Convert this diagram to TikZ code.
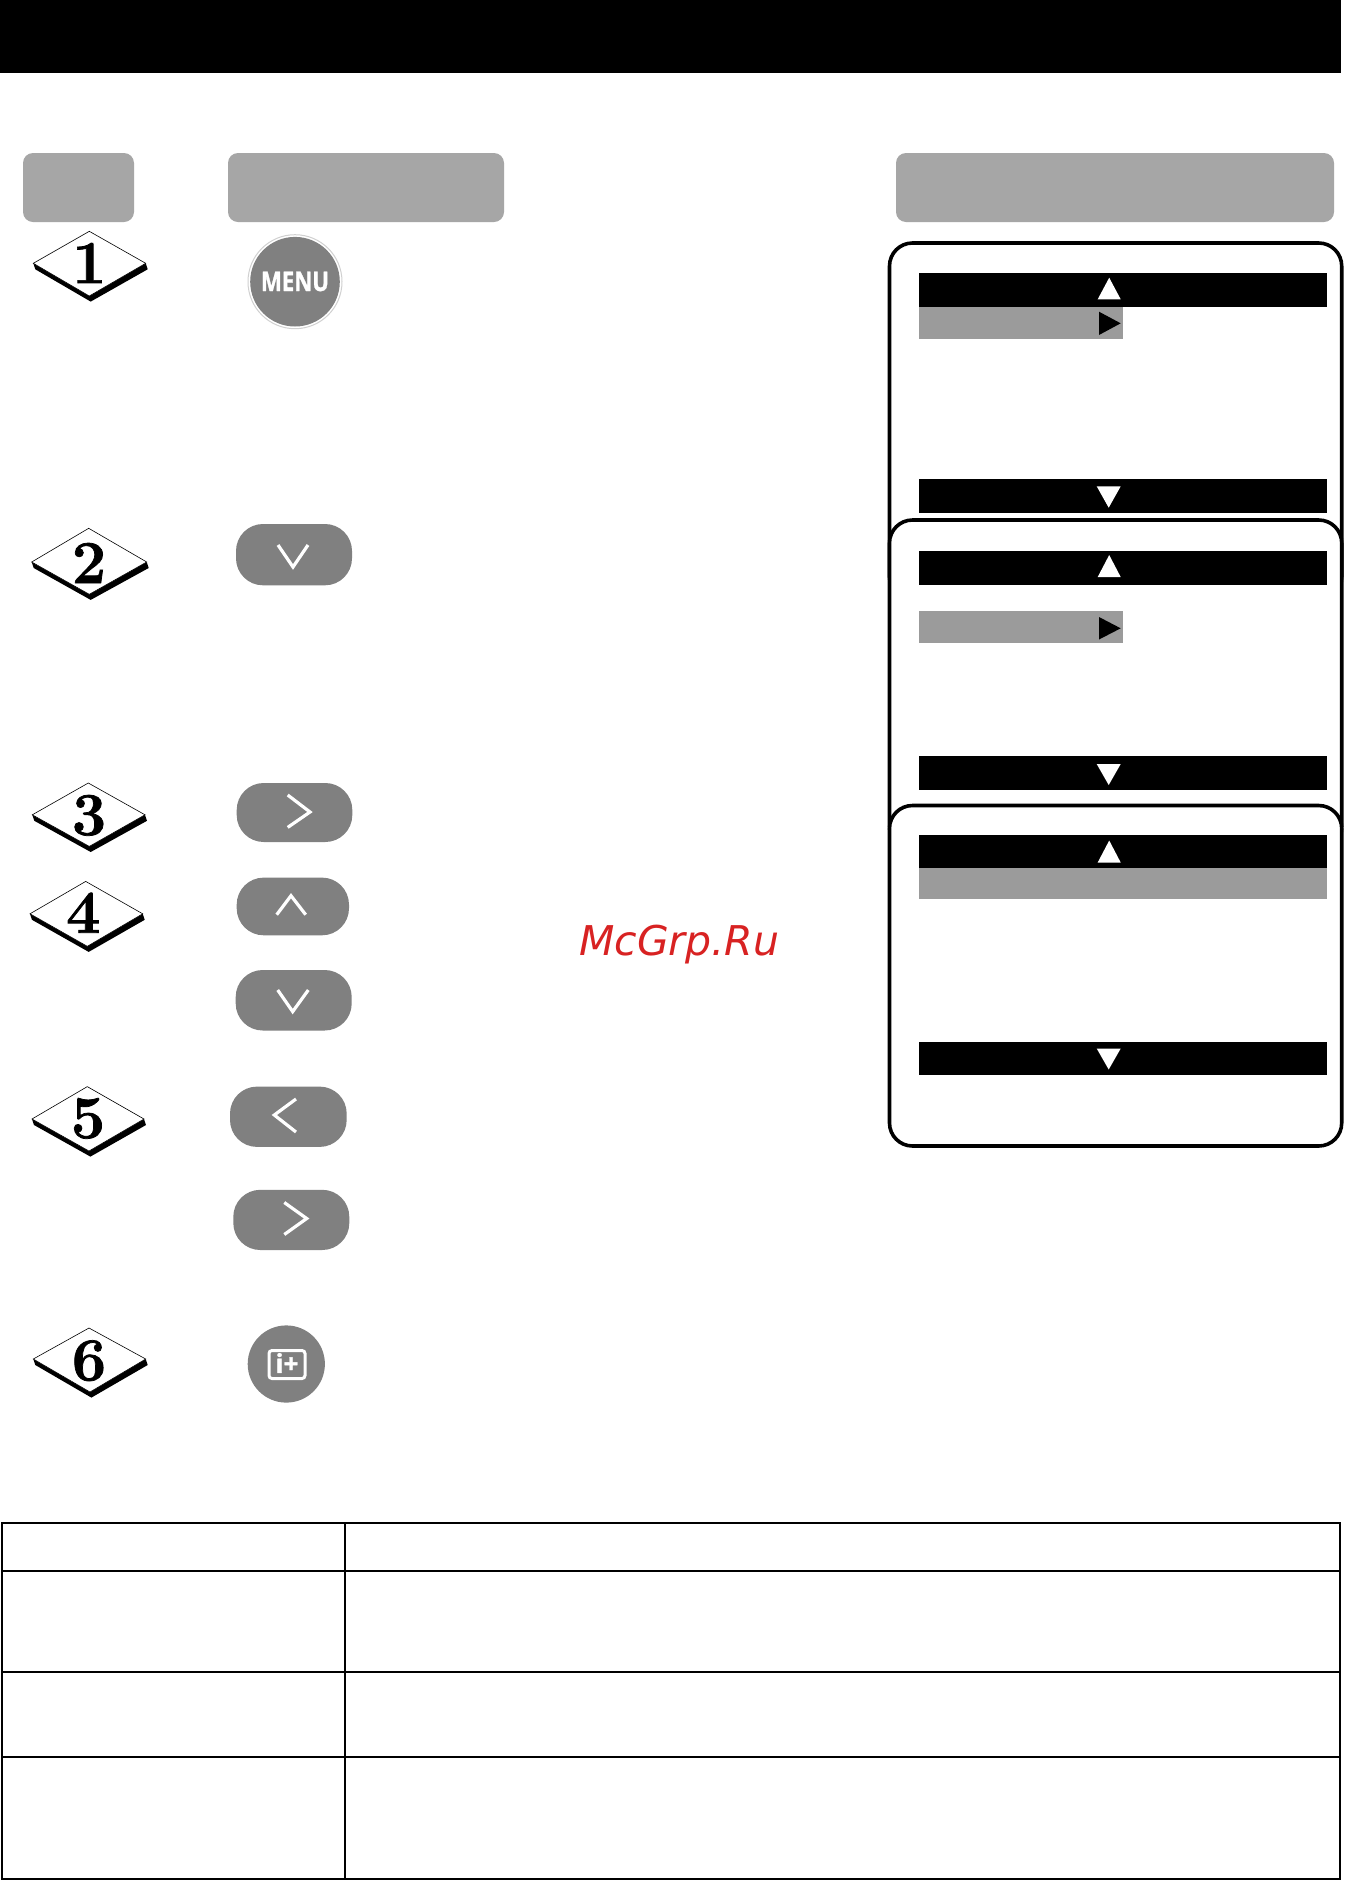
\documentclass[tikz,border=0pt]{standalone}
\usepackage{fontspec}
\newfontfamily\menufont[BoldFeatures={FakeBold=1.2}]{Open Sans}
\newfontfamily\markfont{DejaVu Sans}
\newfontfamily\digitfont[BoldFeatures={FakeBold=1.2}]{Latin Modern Roman}
\definecolor{hdrgrey}{HTML}{A6A6A6}
\definecolor{rowgrey}{HTML}{9B9B9B}
\definecolor{btngrey}{HTML}{808080}
\definecolor{ringgrey}{HTML}{D0D0D0}
\definecolor{markred}{HTML}{D82222}
\tikzset{
  header/.style={fill=hdrgrey,rounded corners=10pt},
  panel/.style={draw=black,line width=3.6pt,fill=white,rounded corners=23pt},
  darkbar/.style={fill=black},
  greyrow/.style={fill=rowgrey},
  pointer/.style={fill=white},
  blackptr/.style={fill=black},
  btn/.style={fill=btngrey,rounded corners=27pt},
  chevron/.style={draw=white,line width=3.2pt,line join=miter},
  rule/.style={draw=black,line width=2.4pt},
  sheet/.style={draw=black,line width=.6pt,fill=white,line join=miter},
  digit/.style={inner sep=0pt,anchor=base,font=\digitfont\bfseries\fontsize{61}{61}\selectfont},
  shade/.style={fill=black},
}
% #1 digit, #2 left, #3 top, #4 right, #5 bottom, #6 digit x, #7 digit baseline y
\newcommand{\stepmark}[7]{
  \path[shade] ([shift={(2,6)}]#2) -- ([shift={(1.4,5.6)}]#5) -- ([shift={(2,6)}]#4) -- (#4) -- (#5) -- (#2) -- cycle;
  \path[sheet] (#2) -- (#3) -- (#4) -- (#5) -- cycle;
  \node[digit] (digit#1) at (#6,#7) {#1};
}
\begin{document}
\begin{tikzpicture}[x=1pt,y=-1pt]
\useasboundingbox (0,0) rectangle (1345,1880);
\fill[white] (0,0) rectangle (1345,1880);
% top band
\path[fill=black] (0,0) rectangle (1341,73);
% column headers
\path[header] (23,153) rectangle (134,222);
\path[header] (228,153) rectangle (504,222);
\path[header] (896,153) rectangle (1334,222);

% step marks
\stepmark{1}{33.3,263.3}{89.3,231.3}{145.7,263.3}{89.3,296}{89.3}{283}
\stepmark{2}{31.7,562}{88.7,528.3}{146.7,562}{89.3,594.3}{89}{583}
\stepmark{3}{32.3,814.8}{88.3,783}{145,814.8}{89.3,846.4}{89}{835}
\stepmark{4}{30,913.8}{85.7,881.4}{142.7,913.8}{87.3,946.3}{83.3}{932.8}
\stepmark{5}{32,1119}{87.3,1086.6}{144,1119}{89,1151}{88}{1138}
\stepmark{6}{33.3,1359}{89,1328}{145.7,1359}{90,1392}{89}{1380.3}

% MENU button
\path[draw=ringgrey,line width=1pt,fill=white] (295,281.7) circle (47);
\path[fill=btngrey] (295,281.7) circle (44.8);
\node[text=white,inner sep=0pt,font=\menufont\bfseries\fontsize{27}{27}\selectfont] (menu) at (295,281.5) {\scalebox{.82}[1]{MENU}};

% arrow buttons
\path[btn] (236,524) rectangle (352,585.3);
\draw[chevron] (278,545) -- (293,567) -- (308,545);
\path[btn] (236.7,783) rectangle (352.3,842);
\draw[chevron] (287.7,795) -- (310,812) -- (287.7,827.4);
\path[btn] (236.7,877.6) rectangle (349,935.3);
\draw[chevron] (276.7,914.7) -- (291,895.7) -- (305.7,914.7);
\path[btn] (235.7,970) rectangle (351.7,1030.5);
\draw[chevron] (277.7,990) -- (292.7,1011.6) -- (308.3,990);
\path[btn] (230,1086.6) rectangle (346.7,1146.9);
\draw[chevron] (296,1099) -- (274.3,1115) -- (296,1132);
\path[btn] (233.3,1189.8) rectangle (349.3,1250);
\draw[chevron] (284.3,1202.5) -- (306.7,1218.5) -- (284.3,1234.5);

% info button
\path[fill=btngrey] (286.3,1364) circle (38.6);
\path[draw=white,line width=3pt,rounded corners=3pt] (269,1350.5) rectangle (305,1378.5);
\node[text=white,inner sep=0pt,font=\menufont\bfseries\fontsize{26}{26}\selectfont] (info) at (287,1363) {i+};

% panels
\path[panel] (889.5,243) rectangle (1341.7,600);
\path[darkbar] (919,273) rectangle (1327,307);
\path[pointer] (1097.7,299.3) -- (1109.2,277.7) -- (1120.7,299.3) -- cycle;
\path[greyrow] (919,307) rectangle (1123,339);
\path[blackptr] (1099,311.7) -- (1120.7,323.3) -- (1099,335) -- cycle;
\path[darkbar] (919,479) rectangle (1327,513);
\path[pointer] (1096.7,486.3) -- (1120.7,486.3) -- (1108.7,507.7) -- cycle;

\path[panel] (889.5,520) rectangle (1341.7,850);
\path[darkbar] (919,551) rectangle (1327,585);
\path[pointer] (1097.7,577) -- (1109.2,555) -- (1120.7,577) -- cycle;
\path[greyrow] (919,611) rectangle (1123,643);
\path[blackptr] (1099,617) -- (1120.7,628.3) -- (1099,639.5) -- cycle;
\path[darkbar] (919,756) rectangle (1327,790);
\path[pointer] (1096.7,764) -- (1120.7,764) -- (1108.7,785) -- cycle;

\path[panel] (889.5,805.5) rectangle (1341.7,1146);
\path[darkbar] (919,835) rectangle (1327,868);
\path[pointer] (1097.7,862.5) -- (1109.2,840.5) -- (1120.7,862.5) -- cycle;
\path[greyrow] (919,868) rectangle (1327,899);
\path[darkbar] (919,1042) rectangle (1327,1074.6);
\path[pointer] (1096.7,1048.5) -- (1120.7,1048.5) -- (1108.7,1069.5) -- cycle;

% table
\path[rule] (2,1523) rectangle (1339.7,1878.7);
\path[rule] (2,1571) -- (1339.7,1571);
\path[rule] (2,1672) -- (1339.7,1672);
\path[rule] (2,1757) -- (1339.7,1757);
\path[rule] (345,1523) -- (345,1878.7);

% watermark
\node[text=markred,inner sep=0pt,anchor=base west,font=\markfont\itshape\fontsize{41}{41}\selectfont] (wm) at (579,955) {McGrp.Ru};
\end{tikzpicture}
\end{document}
